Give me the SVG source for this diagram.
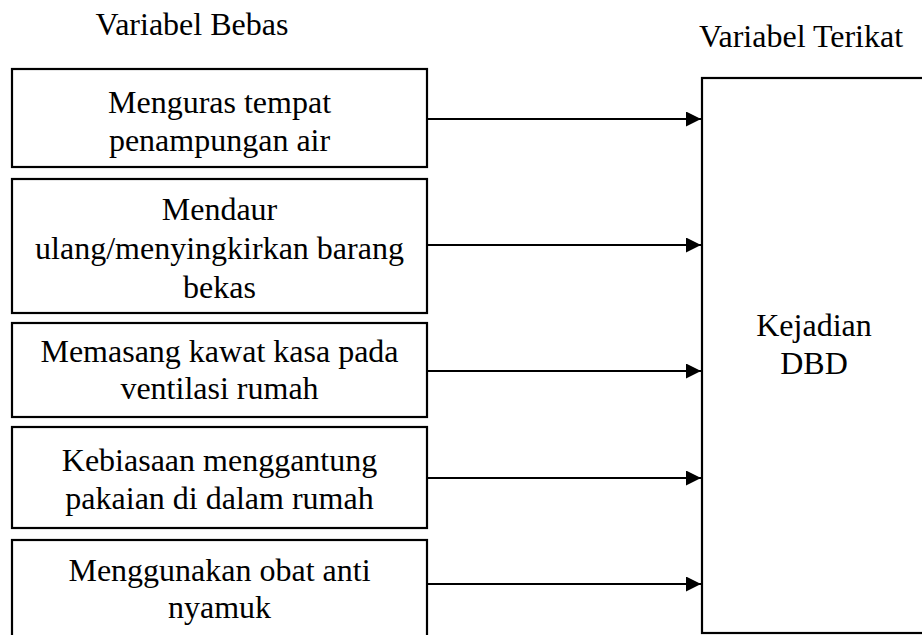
<svg xmlns="http://www.w3.org/2000/svg" width="922" height="635" viewBox="0 0 922 635">
<style>
.box{fill:#fff;stroke:#000;stroke-width:2.2}
.t{font-family:"Liberation Serif","Times New Roman",serif;font-size:32px;fill:#000;text-anchor:middle}
.c{stroke:#000;stroke-width:2.2;fill:none}
</style>
<defs>
<marker id="ah" markerUnits="userSpaceOnUse" markerWidth="16" markerHeight="16" refX="15" refY="7.5" orient="auto">
<path d="M0,0 L15,7.5 L0,15 z" fill="#000"/>
</marker>
</defs>
<rect width="922" height="635" fill="#fff"/>
<text class="t" x="192" y="35">Variabel Bebas</text>
<text class="t" x="801" y="47">Variabel Terikat</text>
<g id="n1">
<rect class="box" x="12" y="69" width="415" height="98"/>
<text class="t" x="219.5" y="113">Menguras tempat</text>
<text class="t" x="219.5" y="151">penampungan air</text>
</g>
<g id="n2">
<rect class="box" x="12" y="179" width="415" height="134"/>
<text class="t" x="219.5" y="220">Mendaur</text>
<text class="t" x="219.5" y="259">ulang/menyingkirkan barang</text>
<text class="t" x="219.5" y="298">bekas</text>
</g>
<g id="n3">
<rect class="box" x="12" y="323" width="415" height="94"/>
<text class="t" x="219.5" y="362">Memasang kawat kasa pada</text>
<text class="t" x="219.5" y="399">ventilasi rumah</text>
</g>
<g id="n4">
<rect class="box" x="12" y="427" width="415" height="101"/>
<text class="t" x="219.5" y="471">Kebiasaan menggantung</text>
<text class="t" x="219.5" y="509">pakaian di dalam rumah</text>
</g>
<g id="n5">
<rect class="box" x="12" y="540" width="415" height="110"/>
<text class="t" x="219.5" y="581">Menggunakan obat anti</text>
<text class="t" x="219.5" y="618">nyamuk</text>
</g>
<g id="n6">
<rect class="box" x="702" y="78" width="240" height="555"/>
<text class="t" x="814" y="336">Kejadian</text>
<text class="t" x="814" y="374">DBD</text>
</g>
<g id="connectors">
<line class="c" x1="428" y1="119" x2="701" y2="119" marker-end="url(#ah)"/>
<line class="c" x1="428" y1="245" x2="701" y2="245" marker-end="url(#ah)"/>
<line class="c" x1="428" y1="371" x2="701" y2="371" marker-end="url(#ah)"/>
<line class="c" x1="428" y1="478" x2="701" y2="478" marker-end="url(#ah)"/>
<line class="c" x1="428" y1="584" x2="701" y2="584" marker-end="url(#ah)"/>
</g>
</svg>
